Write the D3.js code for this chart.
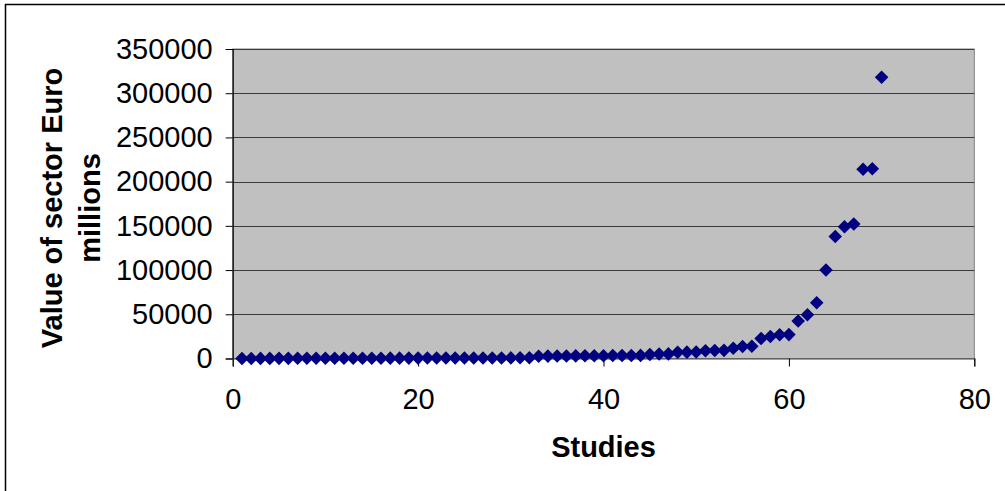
<!DOCTYPE html>
<html>
<head>
<meta charset="utf-8">
<script src="https://cdn.jsdelivr.net/npm/d3@7"></script>
<style>
  body { margin: 0; background: #fff; }
  svg { display: block; font-family: "Liberation Sans", Arial, sans-serif; }
</style>
</head>
<body>
<svg id="chart" width="1005" height="491"></svg>
<script>
// study index -> value of sector (Euro millions)
const studies = d3.range(1, 71)
const values = [
    60, 90, 110, 120, 150, 170, 200, 220, 240, 260,
    280, 300, 320, 340, 360, 380, 400, 420, 440, 460,
    480, 500, 520, 540, 560, 580, 600, 620, 650, 700,
    750, 800, 2600, 2700, 2800, 2900, 3000, 3100, 3100, 3200,
    3300, 3300, 3400, 3500, 4600, 5000, 5200, 7000, 7200, 7400,
    8800, 9000, 9200, 11500, 13600, 13800, 22700, 24800, 26800, 27000,
    42500, 49500, 63000, 100000, 138000, 149000, 152000, 214000, 214500, 318000
]
const xTicks = [0, 20, 40, 60, 80]
const yTicks = [0, 50000, 100000, 150000, 200000, 250000, 300000, 350000]

const svg = d3.select('#chart')
const plot = {left: 232.7, right: 974.3, top: 49, bottom: 358.5}

const x = d3.scaleLinear().domain([0, 80]).range([plot.left, plot.right])
const y = d3.scaleLinear().domain([0, 350000]).range([plot.bottom, plot.top])

// outer frame (runs off the right/bottom edge)
svg.append('rect')
    .attr('x', 5.5).attr('y', 4.5).attr('width', 1020).attr('height', 520)
    .attr('fill', '#fff').attr('stroke', '#000').attr('stroke-width', 1.5)

// plot area
svg.append('rect')
    .attr('x', plot.left).attr('y', plot.top)
    .attr('width', plot.right - plot.left).attr('height', plot.bottom - plot.top)
    .attr('fill', '#c0c0c0').attr('stroke', '#808080').attr('stroke-width', 1)

// gridlines
svg.append('g').selectAll('line')
    .data(yTicks.filter(d => d > 0))
    .join('line')
    .attr('x1', plot.left).attr('x2', plot.right)
    .attr('y1', d => Math.round(y(d)) + 0.5).attr('y2', d => Math.round(y(d)) + 0.5)
    .attr('stroke', '#3a3a3a').attr('stroke-width', 1.2)

// axes
const yAxis = svg.append('g')
    .attr('transform', `translate(${plot.left},0)`)
    .call(d3.axisLeft(y).tickValues(yTicks).tickSize(7).tickPadding(13).tickFormat(d3.format('d')))
const xAxis = svg.append('g')
    .attr('transform', `translate(0,${plot.bottom})`)
    .call(d3.axisBottom(x).tickValues(xTicks).tickSize(8).tickPadding(22).tickFormat(d3.format('d')))

for (const ax of [yAxis, xAxis]) {
    ax.select('.domain').attr('stroke', '#000').attr('stroke-width', 1.2)
    ax.selectAll('.tick line').attr('stroke', '#000')
    ax.selectAll('.tick text')
        .attr('font-family', '"Liberation Sans", Arial, sans-serif')
        .attr('font-size', 29).attr('fill', '#000')
}
xAxis.select('.domain').attr('stroke', '#404040')

// markers
svg.append('g').selectAll('path')
    .data(studies)
    .join('path')
    .attr('d', d3.symbol(d3.symbolSquare, 92))
    .attr('transform', (d, i) => `translate(${x(d)},${y(values[i])}) rotate(45)`)
    .attr('fill', '#000080')

// axis titles
svg.append('text')
    .attr('x', (plot.left + plot.right) / 2).attr('y', 457)
    .attr('text-anchor', 'middle')
    .attr('font-size', 29).attr('font-weight', 'bold')
    .text('Studies')

const yTitle = svg.append('text')
    .attr('transform', 'translate(62,208) rotate(-90)')
    .attr('text-anchor', 'middle')
    .attr('font-size', 29).attr('font-weight', 'bold')
yTitle.append('tspan').attr('x', 0).attr('y', 0).text('Value of sector Euro')
yTitle.append('tspan').attr('x', 0).attr('y', 38).text('millions')
</script>
</body>
</html>
